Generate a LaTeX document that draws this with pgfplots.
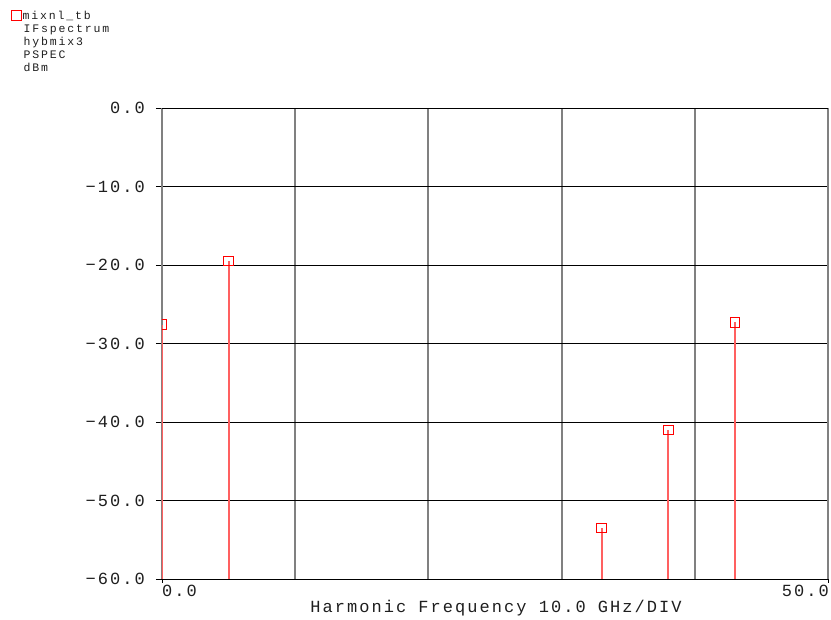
\documentclass[border=0pt]{standalone}
\usepackage{fontspec}
\setmainfont{Liberation Mono}
\newfontfamily\tickfont[LetterSpace=12]{Liberation Mono}
\newfontfamily\legfont[LetterSpace=16]{Liberation Mono}
\usepackage{pgfplots}
\pgfplotsset{compat=1.18}
\usepackage{pgfplotstable}

\definecolor{stemred}{RGB}{255,96,96}
\definecolor{markred}{RGB}{255,0,0}
\definecolor{gridgray}{RGB}{128,128,128}
\definecolor{txt}{RGB}{30,30,30}

% harmonic frequency (GHz) and power (dBm)
\pgfplotstableread{
f p
0 -27.6
5 -19.5
33 -53.5
38 -41.0
43 -27.3
}\ifspectrum

\newcommand{\tickfs}{\fontsize{17}{17}\selectfont\tickfont}
\newcommand{\legfs}{\fontsize{11.5}{13}\selectfont\legfont}

\begin{document}
\begin{tikzpicture}[x=1pt,y=1pt]
\useasboundingbox (0,0) rectangle (831,620);
\begin{axis}[
  at={(162pt,41pt)}, anchor=south west,
  scale only axis, width=666pt, height=471pt,
  xmin=0, xmax=50, ymin=-60, ymax=0,
  clip mode=individual, clip marker paths=true,
  axis line style={draw=none},
  xtick={10,20,30,40}, xticklabels={}, x tick style={draw=none},
  xmajorgrids, x grid style={gridgray, line width=2pt},
  ytick={-60,-50,...,0},
  yticklabels={−60.0,−50.0,−40.0,−30.0,−20.0,−10.0,0.0},
  ymajorgrids, y grid style={black, line width=0.8pt},
  ytick pos=left, tick align=outside, major tick length=6pt,
  y tick style={black, line width=0.8pt},
  yticklabel style={font=\tickfs, text=txt, inner sep=0pt, xshift=-11pt},
  xlabel={Harmonic Frequency 10.0 GHz/DIV},
  xlabel style={font=\tickfs, text=txt, at={(axis description cs:0.5,0)}, anchor=center, yshift=-29pt, xshift=1pt},
  legend style={at={(-0.2267,1.2091)}, anchor=north west, draw=none, fill=none,
    inner sep=0pt, row sep=0pt, font=\legfs, text=txt,
    nodes={inner sep=0.5pt, text height=9pt, text depth=3pt}},
  legend cell align=left,
]
% plot frame: grey verticals, black horizontals
\draw[gridgray, line width=2pt] (axis cs:0,-60) -- (axis cs:0,0);
\draw[gridgray, line width=2pt] (axis cs:50,-60) -- (axis cs:50,0);
\draw[black, line width=0.8pt] (axis cs:0,0) -- (axis cs:50,0);
\draw[black, line width=0.8pt] (axis cs:0,-60) -- (axis cs:50,-60);
\draw[black, line width=0.8pt] (axis cs:0,-60) -- ([yshift=-4pt]axis cs:0,-60);
\draw[black, line width=0.8pt] (axis cs:50,-60) -- ([yshift=-4pt]axis cs:50,-60);

% stems: vertical segments from each line down past the bottom edge
\addplot[forget plot, draw=stemred, line width=2pt, mark=none,
  quiver={u=0, v=-100}]
  table[x=f, y=p] {\ifspectrum};

% spectral lines
\addplot[only marks, mark=square, mark size=4.8pt,
  mark options={draw=markred, line width=0.9pt, fill=none},
  legend image code/.code={\draw[draw=markred, line width=0.9pt] (0pt,-4pt) rectangle (10pt,6pt);}]
  table[x=f, y=p] {\ifspectrum};
\addlegendentry{mixnl\_tb}
\addlegendimage{empty legend}\addlegendentry{\hspace{1pt}IFspectrum}
\addlegendimage{empty legend}\addlegendentry{\hspace{1pt}hybmix3}
\addlegendimage{empty legend}\addlegendentry{\hspace{1pt}PSPEC}
\addlegendimage{empty legend}\addlegendentry{\hspace{1pt}dBm}

\node[anchor=west, font=\tickfs, text=txt, inner sep=0pt] at (axis cs:0,-60) [yshift=-12pt, xshift=0pt] {0.0};
\node[anchor=east, font=\tickfs, text=txt, inner sep=0pt] at (axis cs:50,-60) [yshift=-12pt, xshift=1pt] {50.0};
\end{axis}
\end{tikzpicture}
\end{document}
